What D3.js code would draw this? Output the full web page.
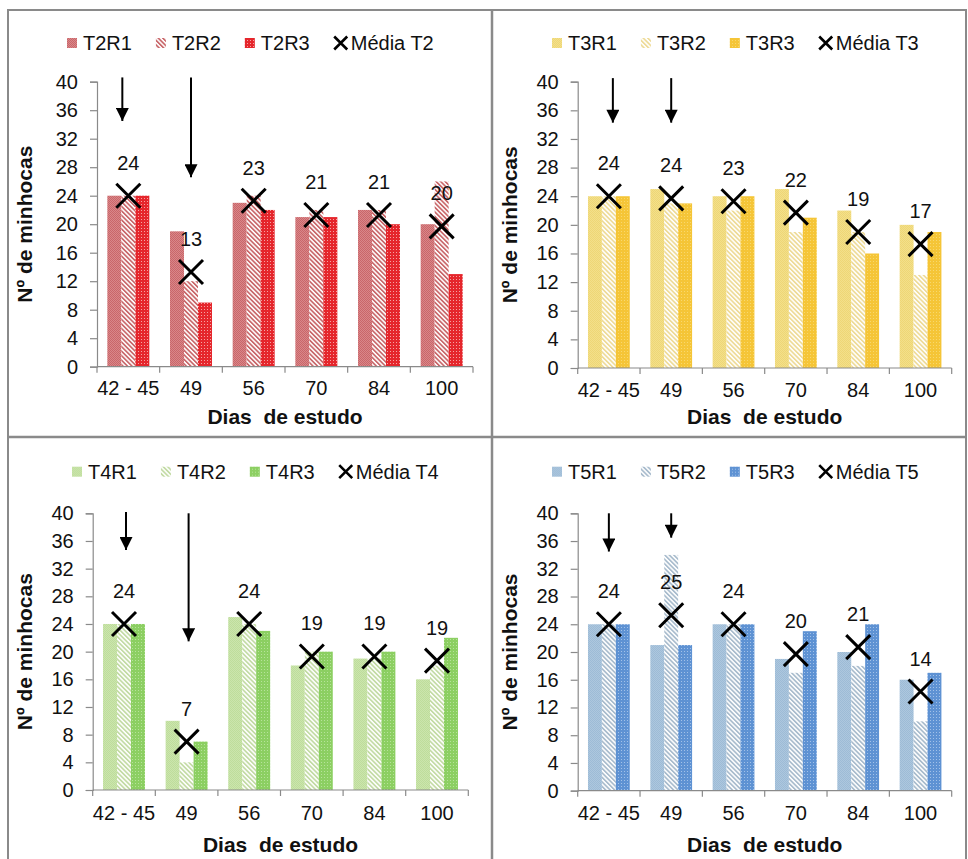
<!DOCTYPE html>
<html>
<head>
<meta charset="utf-8">
<script src="https://cdn.jsdelivr.net/npm/d3@7"></script>
<style>
  html, body { margin: 0; padding: 0; background: #fff; }
  svg { display: block; font-family: "Liberation Sans", Arial, sans-serif; }
</style>
</head>
<body>
<svg id="chart" width="968" height="859"></svg>
<script>
// ---------------- DATA ----------------
const categories = ["42 - 45", "49", "56", "70", "84", "100"];
const yTicks = [0, 4, 8, 12, 16, 20, 24, 28, 32, 36, 40];
const yTitle = "Nº de minhocas";
const xTitle = "Dias  de estudo";

const t2Names = ["T2R1", "T2R2", "T2R3", "Média T2"];
const t2r1 = [24, 19, 23, 21, 22, 20];
const t2r2 = [24, 12, 24, 22, 22, 26];
const t2r3 = [24, 9, 22, 21, 20, 13];
const t2Media = [24, 13.3, 23.3, 21.3, 21.3, 19.7];
const t2Arrows = [[0, 40.6, 34.2], [1, 40.6, 26.3]];

const t3Names = ["T3R1", "T3R2", "T3R3", "Média T3"];
const t3r1 = [24, 25, 24, 25, 22, 20];
const t3r2 = [24, 23, 22, 19, 19, 13];
const t3r3 = [24, 23, 24, 21, 16, 19];
const t3Media = [24, 23.7, 23.3, 21.7, 19, 17.3];
const t3Arrows = [[0, 40.5, 34], [1, 40.5, 34]];

const t4Names = ["T4R1", "T4R2", "T4R3", "Média T4"];
const t4r1 = [24, 10, 25, 18, 19, 16];
const t4r2 = [24, 4, 24, 20, 19, 18];
const t4r3 = [24, 7, 23, 20, 20, 22];
const t4Media = [24, 7, 24, 19.3, 19.3, 18.7];
const t4Arrows = [[0, 40.2, 34.4], [1, 40, 21.2]];

const t5Names = ["T5R1", "T5R2", "T5R3", "Média T5"];
const t5r1 = [24, 21, 24, 19, 20, 16];
const t5r2 = [24, 34, 24, 17, 18, 10];
const t5r3 = [24, 21, 24, 23, 24, 17];
const t5Media = [24, 25.3, 24, 19.7, 20.7, 14.3];
const t5Arrows = [[0, 40, 34.2], [1, 40, 36.2]];

// ---------------- STYLE / LAYOUT ----------------
const palettes = {
  T2: { r1: ["#d98789", "#c9666a"], r2: ["#ffffff", "#c9686b"], r3: ["#e5262c", "#f4a3a3"] },
  T3: { r1: ["#f3e08a", "#eed676"], r2: ["#ffffff", "#eedb98"], r3: ["#f5c537", "#f8d86e"] },
  T4: { r1: ["#cbe5ad", "#bedd9b"], r2: ["#ffffff", "#c3dba5"], r3: ["#8ccf62", "#b6e39a"] },
  T5: { r1: ["#adc7de", "#9dbbd6"], r2: ["#ffffff", "#a9bccd"], r3: ["#5e92d3", "#a2c1e8"] }
};

const panels = [
  { key: "T2", names: t2Names, series: [t2r1, t2r2, t2r3], media: t2Media, arrows: t2Arrows,
    left: 97, right: 473, top: 81.7, bottom: 366.7, legendX: 67, legendY: 43,
    xLabY: 388, xTitleY: 417, yTitleX: 25 },
  { key: "T3", names: t3Names, series: [t3r1, t3r2, t3r3], media: t3Media, arrows: t3Arrows,
    left: 577.7, right: 951.7, top: 81.7, bottom: 368, legendX: 552, legendY: 43,
    xLabY: 390, xTitleY: 417, yTitleX: 510 },
  { key: "T4", names: t4Names, series: [t4r1, t4r2, t4r3], media: t4Media, arrows: t4Arrows,
    left: 92.7, right: 468.3, top: 513.3, bottom: 790, legendX: 72, legendY: 471.7,
    xLabY: 813, xTitleY: 845, yTitleX: 25 },
  { key: "T5", names: t5Names, series: [t5r1, t5r2, t5r3], media: t5Media, arrows: t5Arrows,
    left: 577.7, right: 951.7, top: 513.3, bottom: 790.7, legendX: 552, legendY: 471.7,
    xLabY: 813, xTitleY: 845, yTitleX: 510 }
];

const svg = d3.select("#chart");
const defs = svg.append("defs");

// patterns
Object.entries(palettes).forEach(([k, p]) => {
  // R1: fine checker of two close shades
  const p1 = defs.append("pattern").attr("id", `${k}-r1`).attr("patternUnits", "userSpaceOnUse")
    .attr("width", 2).attr("height", 2);
  p1.append("rect").attr("width", 2).attr("height", 2).attr("fill", p.r1[0]);
  p1.append("rect").attr("width", 1).attr("height", 1).attr("fill", p.r1[1]);
  p1.append("rect").attr("x", 1).attr("y", 1).attr("width", 1).attr("height", 1).attr("fill", p.r1[1]);
  // R2: diagonal stripes "\"
  const p2 = defs.append("pattern").attr("id", `${k}-r2`).attr("patternUnits", "userSpaceOnUse")
    .attr("width", 3.2).attr("height", 3.2).attr("patternTransform", "rotate(-45)");
  p2.append("rect").attr("width", 3.2).attr("height", 3.2).attr("fill", p.r2[0]);
  p2.append("rect").attr("width", 1.7).attr("height", 3.2).attr("fill", p.r2[1]);
  // R3: saturated with light dots
  const p3 = defs.append("pattern").attr("id", `${k}-r3`).attr("patternUnits", "userSpaceOnUse")
    .attr("width", 3).attr("height", 3);
  p3.append("rect").attr("width", 3).attr("height", 3).attr("fill", p.r3[0]);
  p3.append("rect").attr("width", 1).attr("height", 1).attr("fill", p.r3[1]);
});

const arrowDefs = defs.append("marker").attr("id", "ah").attr("viewBox", "0 0 10 10")
  .attr("refX", 10).attr("refY", 5).attr("markerUnits", "userSpaceOnUse")
  .attr("markerWidth", 14).attr("markerHeight", 13).attr("orient", "auto");
arrowDefs.append("path").attr("d", "M0,0 L10,5 L0,10 Z").attr("fill", "#000");

// frame
const frameColor = "#8a8a8a";
svg.append("rect").attr("x", 8).attr("y", 10).attr("width", 958).attr("height", 860)
  .attr("fill", "none").attr("stroke", frameColor).attr("stroke-width", 2);
svg.append("line").attr("x1", 492).attr("x2", 492).attr("y1", 10).attr("y2", 859)
  .attr("stroke", frameColor).attr("stroke-width", 2.5);
svg.append("line").attr("x1", 8).attr("x2", 966).attr("y1", 437).attr("y2", 437)
  .attr("stroke", frameColor).attr("stroke-width", 2.5);

function xMark(sel, cx, cy, h, sw) {
  sel.append("path")
    .attr("d", `M${cx - h},${cy - h}L${cx + h},${cy + h}M${cx - h},${cy + h}L${cx + h},${cy - h}`)
    .attr("stroke", "#000").attr("stroke-width", sw).attr("fill", "none");
}

panels.forEach(P => {
  const g = svg.append("g");
  const x0 = d3.scaleBand().domain(categories).range([P.left, P.right]).padding(0);
  const bw = x0.bandwidth();
  const x1 = d3.scaleBand().domain([0, 1, 2]).range([bw * 0.165, bw * 0.835]).padding(0);
  const y = d3.scaleLinear().domain([0, 40]).range([P.bottom, P.top]);

  // bars
  P.series.forEach((vals, si) => {
    g.append("g").selectAll("rect").data(vals).join("rect")
      .attr("x", (d, i) => x0(categories[i]) + x1(si))
      .attr("width", x1.bandwidth())
      .attr("y", d => y(d))
      .attr("height", d => y(0) - y(d))
      .attr("fill", `url(#${P.key}-r${si + 1})`);
  });

  // axes
  const yAxis = d3.axisLeft(y).tickValues(yTicks).tickSize(7).tickPadding(12);
  const ya = g.append("g").attr("transform", `translate(${P.left},0)`).call(yAxis);
  ya.select(".domain").attr("stroke", "#8a8a8a").attr("stroke-width", 1.2);
  ya.selectAll(".tick line").attr("stroke", "#8a8a8a").attr("stroke-width", 1.2);
  ya.selectAll(".tick text").attr("font-size", 20).attr("fill", "#111")
    .attr("font-family", "Liberation Sans, Arial, sans-serif");

  const xa = g.append("g").attr("transform", `translate(0,${P.bottom})`);
  xa.append("line").attr("x1", P.left).attr("x2", P.right).attr("y1", 0).attr("y2", 0)
    .attr("stroke", "#8a8a8a").attr("stroke-width", 1.2);
  const bounds = categories.map(c => x0(c)).concat([P.right]);
  xa.selectAll("line.tk").data(bounds).join("line").attr("class", "tk")
    .attr("x1", d => d).attr("x2", d => d).attr("y1", 0).attr("y2", 6)
    .attr("stroke", "#8a8a8a").attr("stroke-width", 1.2);
  g.selectAll("text.xl").data(categories).join("text").attr("class", "xl")
    .attr("x", d => x0(d) + bw / 2).attr("y", P.xLabY).attr("dy", "0.35em")
    .attr("text-anchor", "middle").attr("font-size", 20).attr("fill", "#111").text(d => d);

  // titles
  g.append("text").attr("x", (P.left + P.right) / 2).attr("y", P.xTitleY).attr("dy", "0.35em")
    .attr("text-anchor", "middle").attr("font-size", 21).attr("font-weight", "bold")
    .attr("fill", "#111").attr("xml:space", "preserve").style("white-space", "pre").text(xTitle);
  g.append("text").attr("transform", `translate(${P.yTitleX},${(P.top + P.bottom) / 2}) rotate(-90)`)
    .attr("dy", "0.35em").attr("text-anchor", "middle").attr("font-size", 21)
    .attr("font-weight", "bold").attr("fill", "#111").text(yTitle);

  // mean markers and labels
  P.media.forEach((m, i) => {
    const cx = x0(categories[i]) + bw / 2;
    xMark(g, cx, y(m), 12, 3);
    g.append("text").attr("x", cx).attr("y", y(m) - 33).attr("dy", "0.35em")
      .attr("text-anchor", "middle").attr("font-size", 20).attr("fill", "#111")
      .text(Math.round(m));
  });

  // arrows
  P.arrows.forEach(([ci, top, tip], k) => {
    const cx = x0(categories[ci]) + bw / 2 + (P.key === "T2" && k === 0 ? -6 : 0)
      + (P.key === "T3" && k === 0 ? 4 : 0) + (P.key === "T4" ? 2 : 0);
    g.append("line").attr("x1", cx).attr("x2", cx).attr("y1", y(top)).attr("y2", y(tip) - 2)
      .attr("stroke", "#000").attr("stroke-width", 2).attr("marker-end", "url(#ah)");
  });

  // legend
  const lg = g.append("g").attr("transform", `translate(${P.legendX},${P.legendY})`);
  let cx = 0;
  P.names.forEach((nm, i) => {
    if (i < 3) {
      lg.append("rect").attr("x", cx).attr("y", -5).attr("width", 10).attr("height", 10)
        .attr("fill", `url(#${P.key}-r${i + 1})`);
      cx += 16;
    } else {
      xMark(lg, cx + 7, 0, 6.5, 2.6);
      cx += 17;
    }
    const t = lg.append("text").attr("x", cx).attr("y", 0).attr("dy", "0.35em")
      .attr("font-size", 20).attr("fill", "#111").text(nm);
    cx += t.node().getComputedTextLength() + 24;
  });
});
</script>
</body>
</html>
